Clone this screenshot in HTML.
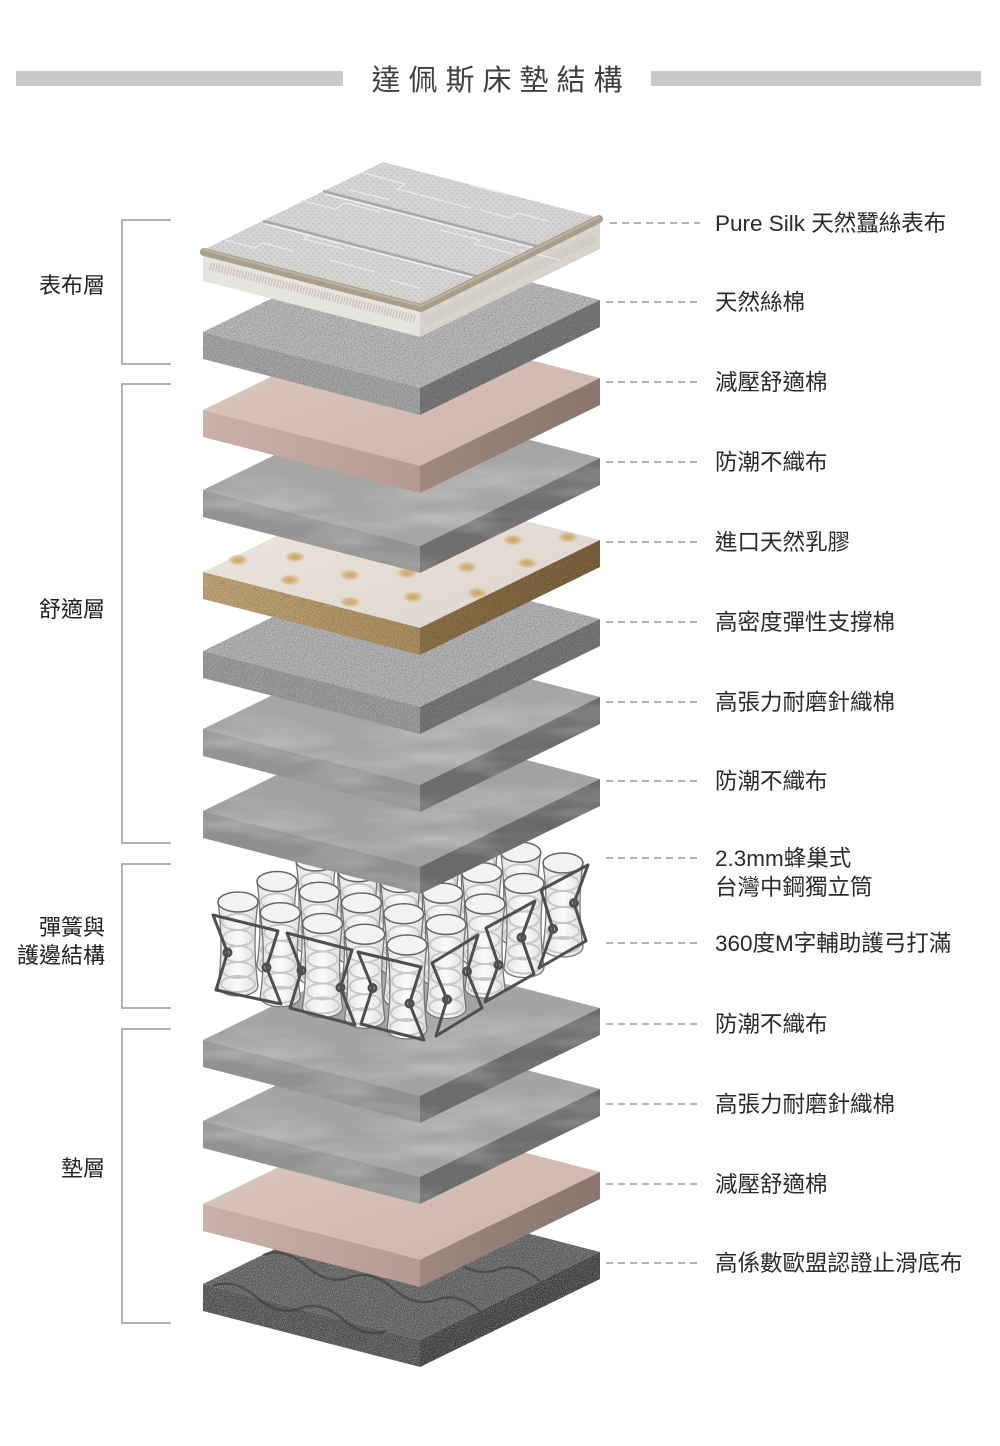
<!DOCTYPE html>
<html><head><meta charset="utf-8"><style>
html,body{margin:0;padding:0;background:#fff;}
body{width:1000px;height:1446px;overflow:hidden;}
svg{display:block;}
</style></head><body>
<svg width="1000" height="1446" viewBox="0 0 1000 1446" xmlns="http://www.w3.org/2000/svg" font-family="'Liberation Sans','Noto Sans CJK TC',sans-serif">
<defs>
 <filter id="marble" x="0" y="0" width="1" height="1" color-interpolation-filters="sRGB">
  <feTurbulence type="fractalNoise" baseFrequency="0.008 0.04" numOctaves="3" seed="7" result="t"/>
  <feColorMatrix in="t" type="matrix" values="0 0 0 0 1  0 0 0 0 1  0 0 0 0 1  0.7 0 0 0 -0.3" result="w"/>
  <feComposite in="w" in2="SourceGraphic" operator="atop"/>
 </filter>
 <filter id="speck" x="0" y="0" width="1" height="1" color-interpolation-filters="sRGB">
  <feTurbulence type="fractalNoise" baseFrequency="0.9" numOctaves="1" seed="2" result="t"/>
  <feColorMatrix in="t" type="matrix" values="0 0 0 0 0  0 0 0 0 0  0 0 0 0 0  0.8 0 0 0 -0.36" result="d"/>
  <feComposite in="d" in2="SourceGraphic" operator="atop"/>
 </filter>
 <filter id="speckD" x="0" y="0" width="1" height="1" color-interpolation-filters="sRGB">
  <feTurbulence type="fractalNoise" baseFrequency="1.1" numOctaves="1" seed="5" result="t"/>
  <feColorMatrix in="t" type="matrix" values="0 0 0 0 1  0 0 0 0 1  0 0 0 0 1  1.2 0 0 0 -0.52" result="d"/>
  <feComposite in="d" in2="SourceGraphic" operator="atop"/>
 </filter>
 <linearGradient id="pinkTop" x1="0" y1="0" x2="1" y2="1"><stop offset="0" stop-color="#dcc8c0"/><stop offset="1" stop-color="#cdb3ab"/></linearGradient>
 <linearGradient id="pinkLeft" x1="0" y1="0" x2="1" y2="0"><stop offset="0" stop-color="#c9b1a9"/><stop offset="1" stop-color="#b59a93"/></linearGradient>
 <linearGradient id="pinkRight" x1="0" y1="0" x2="1" y2="0"><stop offset="0" stop-color="#9e8781"/><stop offset="1" stop-color="#8a746e"/></linearGradient>
 <linearGradient id="latexTop" x1="0" y1="0" x2="1" y2="1"><stop offset="0" stop-color="#ece7e0"/><stop offset="1" stop-color="#ddd5cb"/></linearGradient>
 <linearGradient id="latexLeft" x1="0" y1="0" x2="1" y2="0"><stop offset="0" stop-color="#c2a676"/><stop offset="1" stop-color="#ab8e60"/></linearGradient>
 <linearGradient id="latexRight" x1="0" y1="0" x2="1" y2="0"><stop offset="0" stop-color="#8e7249"/><stop offset="1" stop-color="#7a603c"/></linearGradient>
 <radialGradient id="hole"><stop offset="0" stop-color="#c9a460"/><stop offset="0.6" stop-color="#d3b580" stop-opacity="0.8"/><stop offset="1" stop-color="#e0cba6" stop-opacity="0"/></radialGradient>
 <linearGradient id="cylg" x1="0" y1="0" x2="1" y2="0"><stop offset="0" stop-color="#e4e4e4"/><stop offset="0.5" stop-color="#fbfbfb"/><stop offset="1" stop-color="#dedede"/></linearGradient>
 <pattern id="knit" width="6" height="6" patternUnits="userSpaceOnUse">
  <rect width="6" height="6" fill="#d4d4d2"/>
  <circle cx="1.5" cy="1.5" r="0.9" fill="#bbbbb9"/>
  <circle cx="4.5" cy="4.5" r="0.9" fill="#c0c0be"/>
 </pattern>
 <g id="cyl">
  <path d="M-20,0 C-16,28 -16,56 -20,84 A20,10 0 0 0 20,84 C16,56 16,28 20,0 Z" fill="url(#cylg)" stroke="#767676" stroke-width="1.3"/>
  <g fill="none" stroke="#c8c8c8" stroke-width="2">
   <ellipse cx="0" cy="20" rx="16" ry="8"/>
   <ellipse cx="0" cy="36" rx="15" ry="8"/>
   <ellipse cx="0" cy="52" rx="15" ry="8"/>
   <ellipse cx="0" cy="68" rx="16" ry="8"/>
   <ellipse cx="0" cy="82" rx="17" ry="8"/>
  </g>
  <ellipse cx="0" cy="0" rx="20" ry="10" fill="#f3f3f3" stroke="#666" stroke-width="1.5"/>
 </g>
</defs>

<!-- Title -->
<rect x="16" y="71" width="327" height="15" fill="#c9c9c9"/>
<rect x="651" y="71" width="330" height="15" fill="#c9c9c9"/>
<text x="501" y="90" text-anchor="middle" font-size="29" letter-spacing="8" fill="#404040">達佩斯床墊結構</text>

<!-- Brackets -->
<g fill="none" stroke="#9a9a9a" stroke-width="1.5">
 <path d="M171,220 H122 V364 H171"/>
 <path d="M171,384 H122 V843 H171"/>
 <path d="M171,864 H122 V1008 H171"/>
 <path d="M171,1029 H122 V1323 H171"/>
</g>
<g font-size="22" fill="#222" text-anchor="end">
 <text x="105" y="293">表布層</text>
 <text x="105" y="617">舒適層</text>
 <text x="105" y="935">彈簧與</text>
 <text x="105" y="963">護邊結構</text>
 <text x="105" y="1176">墊層</text>
</g>

<!-- ===== Slabs (bottom to top) ===== -->
<g transform="translate(0,1284)">
 <g filter="url(#speckD)">
  <polygon points="203,0 420,56 600,-32 383,-88" fill="#5a5a5a"/>
  <polygon points="203,0 420,56 420,83 203,27" fill="#4c4c4c"/>
  <polygon points="420,56 600,-32 600,-5 420,83" fill="#3b3b3b"/>
 </g>
 <g fill="none" stroke="#363636" stroke-width="2.5" opacity="0.55">
  <path d="M263,-29 q21.7,-8 43.4,11.2 t43.4,11.2 t43.4,11.2 t43.4,11.2 t43.4,11.2"/>
  <path d="M323,-59 q21.7,-8 43.4,11.2 t43.4,11.2 t43.4,11.2 t43.4,11.2 t43.4,11.2"/>
  <path d="M213,2 q21.7,-8 43.4,11.2 t43.4,11.2 t43.4,11.2 t43.4,11.2"/>
 </g>
</g>
<g transform="translate(0,1204)">
 <polygon points="203,0 420,56 600,-32 383,-88" fill="url(#pinkTop)"/>
 <polygon points="203,0 420,56 420,83 203,27" fill="url(#pinkLeft)"/>
 <polygon points="420,56 600,-32 600,-5 420,83" fill="url(#pinkRight)"/>
</g>
<g transform="translate(0,1121)" filter="url(#marble)">
 <polygon points="203,0 420,56 600,-32 383,-88" fill="#a4a4a2"/>
 <polygon points="203,0 420,56 420,83 203,27" fill="#929290"/>
 <polygon points="420,56 600,-32 600,-5 420,83" fill="#6e6d6b"/>
</g>
<g transform="translate(0,1040)" filter="url(#marble)">
 <polygon points="203,0 420,56 600,-32 383,-88" fill="#a3a3a1"/>
 <polygon points="203,0 420,56 420,83 203,27" fill="#91918f"/>
 <polygon points="420,56 600,-32 600,-5 420,83" fill="#6d6c6a"/>
</g>

<!-- ===== Springs ===== -->
<use href="#cyl" x="394" y="820"/>
<use href="#cyl" x="436.25" y="830.75"/>
<use href="#cyl" x="355" y="840.5"/>
<use href="#cyl" x="478.5" y="841.5"/>
<use href="#cyl" x="397.25" y="851.25"/>
<use href="#cyl" x="520.75" y="852.25"/>
<use href="#cyl" x="316" y="861"/>
<use href="#cyl" x="439.5" y="862"/>
<use href="#cyl" x="563" y="863"/>
<use href="#cyl" x="358.25" y="871.75"/>
<use href="#cyl" x="481.75" y="872.75"/>
<use href="#cyl" x="277" y="881.5"/>
<use href="#cyl" x="400.5" y="882.5"/>
<use href="#cyl" x="524" y="883.5"/>
<use href="#cyl" x="319.25" y="892.25"/>
<use href="#cyl" x="442.75" y="893.25"/>
<use href="#cyl" x="238" y="902"/>
<use href="#cyl" x="361.5" y="903"/>
<use href="#cyl" x="485" y="904"/>
<use href="#cyl" x="280.25" y="912.75"/>
<use href="#cyl" x="403.75" y="913.75"/>
<use href="#cyl" x="322.5" y="923.5"/>
<use href="#cyl" x="446" y="924.5"/>
<use href="#cyl" x="364.75" y="934.25"/>
<use href="#cyl" x="407" y="945"/>
<g fill="none" stroke="#4f4f4f" stroke-width="3" stroke-linejoin="round">
 <path d="M213,915 L278,931 L266.5,967.5 L281,1004 L216,990 L227.5,952.5 Z"/>
 <path d="M287,933 L352,950 L340.5,987.5 L355,1025 L290,1008 L301.5,970.5 Z"/>
 <path d="M358,952 L421,967 L409.5,1003.5 L424,1040 L361,1024 L372.5,988 Z"/>
 <path d="M432,963 L478,935 L467,971.5 L482,1008 L436,1036 L447,999.5 Z"/>
 <path d="M486,928 L535,901 L521.5,937.5 L534,974 L485,1002 L498.5,965 Z"/>
 <path d="M541,890 L588,865 L574,903 L586,941 L539,968 L553,929 Z"/>
 <circle cx="266.5" cy="967.5" r="3.5"/><circle cx="227.5" cy="952.5" r="3.5"/>
 <circle cx="340.5" cy="987.5" r="3.5"/><circle cx="301.5" cy="970.5" r="3.5"/>
 <circle cx="409.5" cy="1003.5" r="3.5"/><circle cx="372.5" cy="988" r="3.5"/>
 <circle cx="467" cy="971.5" r="3.5"/><circle cx="447" cy="999.5" r="3.5"/>
 <circle cx="521.5" cy="937.5" r="3.5"/><circle cx="498.5" cy="965" r="3.5"/>
 <circle cx="574" cy="903" r="3.5"/><circle cx="553" cy="929" r="3.5"/>
</g>

<g transform="translate(0,811)" filter="url(#marble)">
 <polygon points="203,0 420,56 600,-32 383,-88" fill="#a1a19f"/>
 <polygon points="203,0 420,56 420,83 203,27" fill="#8f8f8d"/>
 <polygon points="420,56 600,-32 600,-5 420,83" fill="#6b6a68"/>
</g>
<g transform="translate(0,729)" filter="url(#marble)">
 <polygon points="203,0 420,56 600,-32 383,-88" fill="#a5a5a3"/>
 <polygon points="203,0 420,56 420,83 203,27" fill="#939391"/>
 <polygon points="420,56 600,-32 600,-5 420,83" fill="#6e6d6b"/>
</g>
<g transform="translate(0,651)" filter="url(#speck)">
 <polygon points="203,0 420,56 600,-32 383,-88" fill="#b3b3b3"/>
 <polygon points="203,0 420,56 420,83 203,27" fill="#9c9c9c"/>
 <polygon points="420,56 600,-32 600,-5 420,83" fill="#777"/>
</g>
<g transform="translate(0,572)">
 <polygon points="203,0 420,56 600,-32 383,-88" fill="url(#latexTop)"/>
 <g filter="url(#speck)">
  <polygon points="203,0 420,56 420,83 203,27" fill="url(#latexLeft)"/>
  <polygon points="420,56 600,-32 600,-5 420,83" fill="url(#latexRight)"/>
 </g>
 <g fill="url(#hole)">
  <ellipse cx="238" cy="-12" rx="11" ry="6"/>
  <ellipse cx="295" cy="-15" rx="11" ry="6"/>
  <ellipse cx="290" cy="8" rx="11" ry="6"/>
  <ellipse cx="350" cy="3" rx="11" ry="6"/>
  <ellipse cx="350" cy="30" rx="11" ry="6"/>
  <ellipse cx="407" cy="1" rx="11" ry="6"/>
  <ellipse cx="413" cy="25" rx="11" ry="6"/>
  <ellipse cx="467" cy="-5" rx="11" ry="6"/>
  <ellipse cx="477" cy="21" rx="11" ry="6"/>
  <ellipse cx="513" cy="-32" rx="11" ry="6"/>
  <ellipse cx="527" cy="-9" rx="11" ry="6"/>
  <ellipse cx="568" cy="-35" rx="11" ry="6"/>
  <ellipse cx="455" cy="-40" rx="11" ry="6"/>
 </g>
</g>
<g transform="translate(0,490)" filter="url(#marble)">
 <polygon points="203,0 420,56 600,-32 383,-88" fill="#a5a5a3"/>
 <polygon points="203,0 420,56 420,83 203,27" fill="#939391"/>
 <polygon points="420,56 600,-32 600,-5 420,83" fill="#706f6d"/>
</g>
<g transform="translate(0,410)">
 <polygon points="203,0 420,56 600,-32 383,-88" fill="url(#pinkTop)"/>
 <polygon points="203,0 420,56 420,83 203,27" fill="url(#pinkLeft)"/>
 <polygon points="420,56 600,-32 600,-5 420,83" fill="url(#pinkRight)"/>
</g>
<g transform="translate(0,332)" filter="url(#speck)">
 <polygon points="203,0 420,56 600,-32 383,-88" fill="#b9b9bb"/>
 <polygon points="203,0 420,56 420,83 203,27" fill="#a5a5a7"/>
 <polygon points="420,56 600,-32 600,-5 420,83" fill="#78777a"/>
</g>

<!-- silk top cover -->
<g>
 <polygon points="203,250 420,306 420,337 203,281" fill="#e6e4df"/>
 <polygon points="420,306 600,218 600,249 420,337" fill="#d6d3cc"/>
 <g fill="none" stroke="#cac7bf" stroke-dasharray="1.5 1.5">
  <line x1="210" y1="266" x2="415" y2="319" stroke-width="8"/>
  <line x1="425" y1="322" x2="595" y2="238" stroke-width="8"/>
 </g>
 <polygon points="203,250 420,306 600,218 383,162" fill="url(#knit)"/>
 <g fill="none" stroke="#ececea" stroke-width="1.4" opacity="0.9">
  <path d="M225,240 l30,8 l8,-5 l30,8 M270,225 l40,10 l-6,4 l40,10 M300,200 l35,9 l10,-6 l35,9 M350,190 l40,10 M360,172 l45,12 l-8,5 l40,10 M420,195 l50,13 M440,230 l40,10 l-6,4 l40,10 M480,210 l30,8 l8,-5 l30,8 M330,260 l45,12 M390,280 l30,8 M520,250 l40,10 M470,185 l40,10"/>
 </g>
 <g fill="none" stroke="#a9a9a7" stroke-width="2.5">
  <line x1="263" y1="221" x2="480" y2="277"/>
  <line x1="323" y1="191" x2="540" y2="247"/>
 </g>
 <g fill="none" stroke="#f4f4f2" stroke-width="1.2">
  <line x1="265" y1="224" x2="482" y2="280"/>
  <line x1="325" y1="194" x2="542" y2="250"/>
 </g>
 <polyline points="204,252 421,308 599,219" fill="none" stroke="#a89e8b" stroke-width="8" stroke-linecap="round" stroke-linejoin="round"/>
 <polyline points="204,250 421,306 599,217" fill="none" stroke="#bcb3a2" stroke-width="2" stroke-linecap="round" stroke-linejoin="round"/>
</g>

<!-- ===== Right labels ===== -->
<g stroke="#9b9b9b" stroke-width="1.5" stroke-dasharray="7 5">
 <line x1="610" y1="223" x2="700" y2="223"/>
 <line x1="606" y1="302" x2="700" y2="302"/>
 <line x1="606" y1="382" x2="700" y2="382"/>
 <line x1="606" y1="462" x2="700" y2="462"/>
 <line x1="606" y1="542" x2="700" y2="542"/>
 <line x1="606" y1="622" x2="700" y2="622"/>
 <line x1="606" y1="702" x2="700" y2="702"/>
 <line x1="606" y1="781" x2="700" y2="781"/>
 <line x1="606" y1="858" x2="700" y2="858"/>
 <line x1="606" y1="943" x2="700" y2="943"/>
 <line x1="606" y1="1024" x2="700" y2="1024"/>
 <line x1="606" y1="1104" x2="700" y2="1104"/>
 <line x1="606" y1="1184" x2="700" y2="1184"/>
 <line x1="606" y1="1263" x2="700" y2="1263"/>
</g>
<g font-size="22.5" fill="#2b2b2b">
 <text x="715" y="231">Pure Silk 天然蠶絲表布</text>
 <text x="715" y="310">天然絲棉</text>
 <text x="715" y="390">減壓舒適棉</text>
 <text x="715" y="470">防潮不織布</text>
 <text x="715" y="550">進口天然乳膠</text>
 <text x="715" y="630">高密度彈性支撐棉</text>
 <text x="715" y="710">高張力耐磨針織棉</text>
 <text x="715" y="789">防潮不織布</text>
 <text x="715" y="866">2.3mm蜂巢式</text>
 <text x="715" y="895">台灣中鋼獨立筒</text>
 <text x="715" y="951">360度M字輔助護弓打滿</text>
 <text x="715" y="1032">防潮不織布</text>
 <text x="715" y="1112">高張力耐磨針織棉</text>
 <text x="715" y="1192">減壓舒適棉</text>
 <text x="715" y="1271">高係數歐盟認證止滑底布</text>
</g>
</svg>
</body></html>
